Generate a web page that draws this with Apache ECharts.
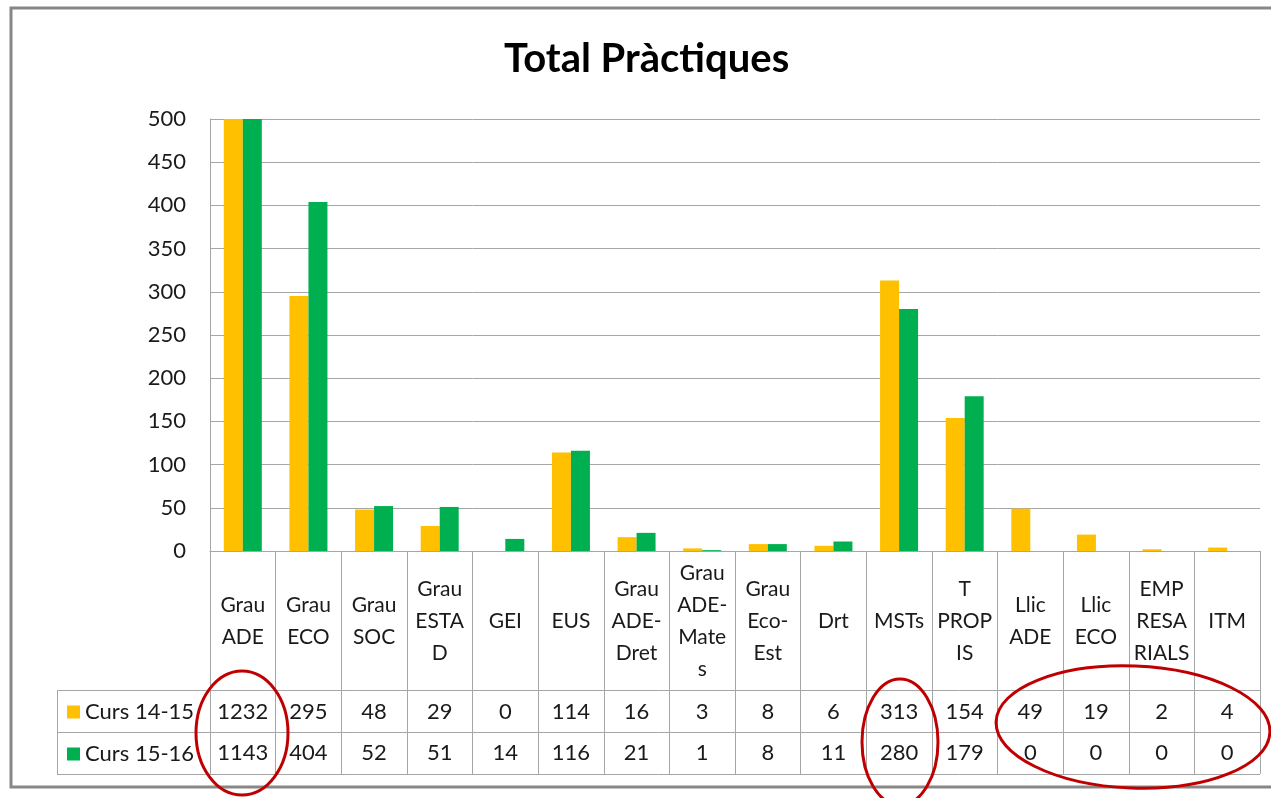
<!DOCTYPE html>
<html>
<head>
<meta charset="utf-8">
<script src="https://cdn.jsdelivr.net/npm/echarts@6/dist/echarts.min.js"></script>
<style>
    html,body{margin:0;padding:0;background:#fff;}
    #chart{width:1271px;height:798px;}
</style>
</head>
<body>
<div id="chart"></div>
<script>
    const categories = ['Grau\nADE','Grau\nECO','Grau\nSOC','Grau\nESTA\nD','GEI','EUS','Grau\nADE-\nDret','Grau\nADE-\nMate\ns','Grau\nEco-\nEst','Drt','MSTs','T\nPROP\nIS','Llic\nADE','Llic\nECO','EMP\nRESA\nRIALS','ITM'];
    const curs1415 = [1232,295,48,29,0,114,16,3,8,6,313,154,49,19,2,4];
    const curs1516 = [1143,404,52,51,14,116,21,1,8,11,280,179,0,0,0,0];
    const seriesNames = ['Curs 14-15','Curs 15-16'];
    const yMin = 0, yMax = 500, yStep = 50;

    const FONT = 'Lato';
    const TXT = '#1a1a1a';
    const LINE = '#a6a6a6';
    const colors = ['#FFC000','#00B050'];

    const myChart = echarts.init(document.getElementById('chart'));

    // helper for the value rows of the data table
    function rowAxis(values, offset){
        return {
            type:'category',
            gridIndex:0,
            position:'bottom',
            offset:offset,
            data:values.map(String),
            axisLine:{show:false},
            axisTick:{show:false},
            axisLabel:{interval:0, margin:0, verticalAlign:'middle', fontSize:22, color:TXT, fontFamily:FONT}
        };
    }

    const red = {fill:'none', stroke:'#C00000', lineWidth:3};

    let option = {
        backgroundColor:'#fff',
        animation:false,
        color:colors,
        title:{
            text:'Total Pràctiques',
            left:504,
            top:39,
            padding:0,
            textStyle:{fontSize:40, fontWeight:'bold', color:'#000', fontFamily:FONT}
        },
        legend:{
            data:seriesNames,
            orient:'vertical',
            left:67,
            top:701,
            padding:0,
            icon:'rect',
            itemWidth:13,
            itemHeight:13,
            itemGap:20,
            selectedMode:false,
            textStyle:{fontSize:22, lineHeight:22, color:TXT, fontFamily:FONT}
        },
        grid:[
            {left:210, right:11, top:119, bottom:247},
            {left:210, right:11, top:551, height:223}
        ],
        xAxis:[
            {
                type:'category',
                gridIndex:0,
                data:categories,
                axisLine:{lineStyle:{color:LINE}},
                axisTick:{show:false},
                axisLabel:{interval:0, margin:70, verticalAlign:'middle', lineHeight:32, fontSize:21, color:TXT, fontFamily:FONT}
            },
            rowAxis(curs1415, 161),
            rowAxis(curs1516, 202),
            {
                // vertical cell borders of the table
                type:'category',
                gridIndex:1,
                data:categories,
                axisLine:{show:false},
                axisTick:{show:false},
                axisLabel:{show:false},
                splitLine:{show:true, lineStyle:{color:LINE, width:1}}
            }
        ],
        yAxis:[
            {
                type:'value',
                gridIndex:0,
                min:yMin,
                max:yMax,
                interval:yStep,
                axisLine:{show:true, lineStyle:{color:LINE}},
                axisTick:{show:false},
                splitLine:{lineStyle:{color:LINE, width:1}},
                axisLabel:{margin:24, fontSize:22, color:TXT, fontFamily:FONT}
            },
            {type:'value', gridIndex:1, show:false}
        ],
        series:[
            {name:seriesNames[0], type:'bar', xAxisIndex:0, yAxisIndex:0, barWidth:19, barGap:'0%', data:curs1415},
            {name:seriesNames[1], type:'bar', xAxisIndex:0, yAxisIndex:0, barWidth:19, barGap:'0%', data:curs1516}
        ],
        graphic:[
            // outer chart frame
            {type:'rect', silent:true, shape:{x:11, y:8, width:1290, height:779}, style:{fill:'none', stroke:'#878787', lineWidth:3}},
            // table rows
            {type:'line', silent:true, shape:{x1:57, y1:690.5, x2:1260, y2:690.5}, style:{stroke:LINE, lineWidth:1}},
            {type:'line', silent:true, shape:{x1:57, y1:732.5, x2:1260, y2:732.5}, style:{stroke:LINE, lineWidth:1}},
            {type:'line', silent:true, shape:{x1:57, y1:774.5, x2:1260, y2:774.5}, style:{stroke:LINE, lineWidth:1}},
            {type:'line', silent:true, shape:{x1:57.5, y1:690, x2:57.5, y2:775}, style:{stroke:LINE, lineWidth:1}},
            // red hand-drawn annotations
            {type:'ellipse', silent:true, z:100, shape:{cx:242, cy:733, rx:46, ry:62}, style:red},
            {type:'ellipse', silent:true, z:100, shape:{cx:900, cy:742, rx:38, ry:63}, style:red},
            {type:'ellipse', silent:true, z:100, x:1133, y:727, rotation:-0.04, shape:{cx:0, cy:0, rx:137, ry:61}, style:red}
        ]
    };
    myChart.setOption(option);
</script>
</body>
</html>
